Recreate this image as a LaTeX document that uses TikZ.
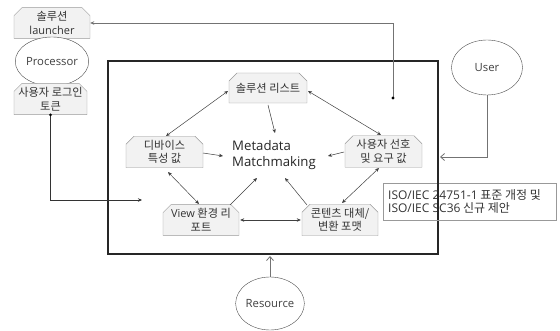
\documentclass[tikz,border=0pt]{standalone}
\usepackage{fontspec}
\setmainfont{Noto Sans CJK KR}
\newfontfamily\lat{Open Sans}
\usetikzlibrary{shapes.misc,shapes.geometric,arrows.meta}
\begin{document}
\begin{tikzpicture}[x=1pt,y=-1pt,
  tag/.style={chamfered rectangle, chamfered rectangle corners={north west,north east},
    chamfered rectangle xsep=4pt, chamfered rectangle ysep=4pt,
    draw=black!40, fill=black!5, inner sep=0pt, align=center,
    font=\fontsize{11.2}{13.4}\selectfont, text=black!80},
  blob/.style={ellipse, draw=black!70, fill=white, inner sep=0pt,
    font=\lat\fontsize{11.3}{13}\selectfont, text=black!75},
  link/.style={draw=black!75, line width=0.5pt},
  tip/.style={-{Stealth[length=4pt,width=3.5pt]}},
  both/.style={{Stealth[length=4pt,width=3.5pt]}-{Stealth[length=4pt,width=3.5pt]}},
  opentip/.style={-{Straight Barb[length=4pt,width=7pt]}},
]
\useasboundingbox (0,0) rectangle (560,331);

% frame of the matchmaking system
\draw[black!85, line width=1.1pt] (108,61) rectangle (438,254);

% standardisation note (the frame line runs across it)
\node[draw=black!40, minimum width=173pt, minimum height=37pt, inner sep=0pt,
      anchor=north west, text=black!80] (iso) at (383,183) {};
\node[anchor=west, align=left, inner sep=0pt, font=\fontsize{12}{13.4}\selectfont, text=black!80]
  (isotxt) at ([xshift=5pt]iso.west)
  {{\lat ISO/IEC 24751-1} 표준 개정 및\\{\lat ISO/IEC SC36} 신규 제안};
\draw[black!85, line width=1.1pt] (438,183) -- (438,220);

% inner concept boxes
\node[tag, minimum width=78pt, minimum height=30pt] (list) at (268,88) {솔루션 리스트};
\node[tag, minimum width=77pt, minimum height=30pt] (dev)  at (164.5,152) {디바이스\\특성 값};
\node[tag, minimum width=77pt, minimum height=31pt] (pref) at (383.5,151.5) {사용자 선호\\및 요구 값};
\node[tag, minimum width=76pt, minimum height=30pt] (view) at (201,220) {{\lat\fontsize{11}{13.4}\selectfont View} 환경 리\\포트};
\node[tag, minimum width=76pt, minimum height=30pt] (cont) at (340,220) {콘텐츠 대체/\\변환 포맷};

\node[align=left, inner sep=0pt, font=\lat\fontsize{13.2}{16.5}\selectfont, text=black!85]
  (mm) at (274,155) {Metadata\\Matchmaking};

% processor side
\node[tag, minimum width=76pt, minimum height=28pt] (launch) at (52,23)
  {솔루션\\{\lat\fontsize{11}{13.4}\selectfont launcher}};
\node[blob, minimum width=71pt, minimum height=49pt] (proc) at (52,61.5) {Processor};
\node[tag, minimum width=73pt, minimum height=28pt] (token) at (50.5,99) {사용자 로그인\\토큰};

% external actors
\node[blob, minimum width=71pt, minimum height=55pt] (user) at (487,67.5) {User};
\node[blob, minimum width=62pt, minimum height=53pt] (res)  at (270,303.5) {Resource};

% connector end points inside the frame
\coordinate (hook) at (393,98);
\coordinate (login) at (142,200);
\coordinate (uin) at (440,157);
\coordinate (rin) at (270,256);

% relations between the concept boxes
\draw[link,both] (228,91) -- (166,136);
\draw[link,both] (308,91) -- (381,135);
\draw[link,tip] (268,105) -- (275,133);
\draw[link,tip] (203,153) -- (223,156);
\draw[link,tip] (344,152) -- (328,156);
\draw[link,both] (168,172) -- (199,204);
\draw[link,both] (379,168) -- (342,203);
\draw[link,tip] (230,205) -- (257,178);
\draw[link,tip] (307,205) -- (285,178);
\draw[link,both] ([xshift=1pt]view.east) -- ([xshift=-1pt]cont.west);

% outer connectors
\draw[black!55, line width=0.6pt, tip] (hook) |- (launch.east);
\fill[black] (hook) circle (1.6pt);
\draw[black!80, line width=0.6pt, tip] (token.south) |- (login);
\fill[black] (token.south) circle (1.6pt);
\draw[black!55, line width=0.8pt, opentip] (user.south) |- (uin);
\draw[black!55, line width=0.8pt, opentip] (res.north) -- (rin);
\end{tikzpicture}
\end{document}
